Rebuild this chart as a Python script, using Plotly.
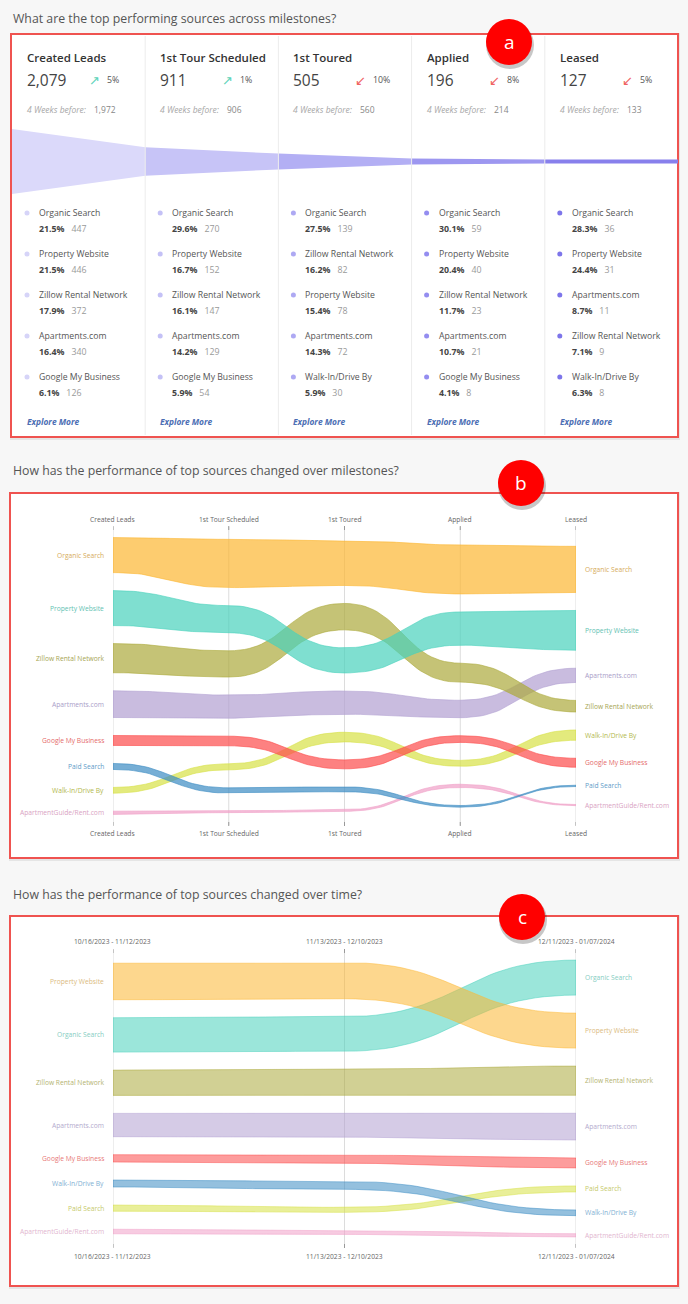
import plotly.graph_objects as go

W, H = 688, 1304
FONT = "Open Sans, DejaVu Sans, sans-serif"

# ---------------- data ----------------
milestones = ["Created Leads", "1st Tour Scheduled", "1st Toured", "Applied", "Leased"]
milestone_totals = [2079, 911, 505, 196, 127]
prior_totals = [1972, 906, 560, 214, 133]
change_pct = [5, 1, 10, 8, 5]
change_up = [True, True, False, False, False]

top_names_created = ["Organic Search", "Property Website", "Zillow Rental Network", "Apartments.com", "Google My Business"]
top_share_created = [21.5, 21.5, 17.9, 16.4, 6.1]
top_count_created = [447, 446, 372, 340, 126]
top_names_scheduled = ["Organic Search", "Property Website", "Zillow Rental Network", "Apartments.com", "Google My Business"]
top_share_scheduled = [29.6, 16.7, 16.1, 14.2, 5.9]
top_count_scheduled = [270, 152, 147, 129, 54]
top_names_toured = ["Organic Search", "Zillow Rental Network", "Property Website", "Apartments.com", "Walk-In/Drive By"]
top_share_toured = [27.5, 16.2, 15.4, 14.3, 5.9]
top_count_toured = [139, 82, 78, 72, 30]
top_names_applied = ["Organic Search", "Property Website", "Zillow Rental Network", "Apartments.com", "Google My Business"]
top_share_applied = [30.1, 20.4, 11.7, 10.7, 4.1]
top_count_applied = [59, 40, 23, 21, 8]
top_names_leased = ["Organic Search", "Property Website", "Apartments.com", "Zillow Rental Network", "Walk-In/Drive By"]
top_share_leased = [28.3, 24.4, 8.7, 7.1, 6.3]
top_count_leased = [36, 31, 11, 9, 8]

# panel b: share (%) of each source at each milestone
sources_b = ["Organic Search", "Property Website", "Zillow Rental Network", "Apartments.com",
             "Google My Business", "Paid Search", "Walk-In/Drive By", "ApartmentGuide/Rent.com"]
organic_b = [21.50, 29.6, 27.5, 30.1, 28.3]
property_b = [21.45, 16.7, 15.4, 20.4, 24.4]
zillow_b = [17.9, 16.1, 16.2, 11.7, 7.1]
apartments_b = [16.4, 14.2, 14.3, 10.7, 8.7]
google_b = [6.1, 5.9, 5.5, 4.1, 5.5]
paid_b = [3.7, 3.2, 3.0, 1.0, 0.8]
walkin_b = [3.5, 3.7, 5.9, 3.6, 6.3]
aptguide_b = [2.0, 1.0, 1.0, 2.0, 0.7]

# panel c: share (%) of each source per 4-week period
periods = ["10/16/2023 - 11/12/2023", "11/13/2023 - 12/10/2023", "12/11/2023 - 01/07/2024"]
sources_c = ["Property Website", "Organic Search", "Zillow Rental Network", "Apartments.com",
             "Google My Business", "Walk-In/Drive By", "Paid Search", "ApartmentGuide/Rent.com"]
property_c = [22.4, 22.2, 21.45]
organic_c = [21.1, 21.2, 21.50]
zillow_c = [15.5, 15.8, 17.9]
apartments_c = [14.3, 14.8, 16.4]
google_c = [4.5, 5.0, 6.1]
walkin_c = [4.3, 4.9, 3.5]
paid_c = [3.8, 3.1, 3.7]
aptguide_c = [2.8, 2.5, 2.0]

# ---------------- style ----------------
palette = [(252, 183, 50), (72, 209, 188), (172, 170, 60), (178, 160, 210),
           (252, 75, 75), (60, 140, 195), (215, 225, 70), (240, 160, 200)]
label_colors_b = ["#d6ab5c", "#62c2b2", "#a6a552", "#a99dc8", "#e56b6b", "#5f9cc8", "#b3b84e", "#d9a3c3"]
label_colors_c = ["#dbbb80", "#86cdc2", "#b4b370", "#b3aacd", "#e87878", "#7fb0d3", "#c6ca6c", "#e2b6cf"]
funnel_colors = ["#dbd9fa", "#c7c4f7", "#b3aff4", "#9d97f0", "#8880ec"]
dot_colors = ["#d6d4f8", "#c4c1f6", "#aea9f3", "#948df0", "#7d75ea"]
PX_PER_PCT = 1.63
GAP_PX = 18
SMALL = 6.7


def px(x):
    return x / W


def py(y):
    return 1 - y / H


annotations = []
shapes = []


def ann(x, y, text, size, color, xanchor="left", weight=None, **kw):
    f = dict(family=FONT, size=size, color=color)
    if weight:
        f["weight"] = weight
    d = dict(x=px(x), y=py(y), xref="paper", yref="paper", text=text, showarrow=False,
             xanchor=xanchor, yanchor="middle", font=f, borderpad=0)
    d.update(kw)
    annotations.append(d)


def panel(x0, y0, x1, y1):
    shapes.append(dict(type="rect", xref="paper", yref="paper", x0=px(x0 - 1), x1=px(x1 + 2),
                       y0=py(y0 - 1), y1=py(y1 + 3), fillcolor="rgba(0,0,0,0.07)",
                       line=dict(width=0), layer="below"))
    shapes.append(dict(type="rect", xref="paper", yref="paper", x0=px(x0), x1=px(x1),
                       y0=py(y0), y1=py(y1), fillcolor="white",
                       line=dict(color="#ef5350", width=2), layer="below"))


def badge(cx, cy, letter, r=23):
    shapes.append(dict(type="circle", xref="paper", yref="paper", x0=px(cx - r), x1=px(cx + r + 2),
                       y0=py(cy - r + 2), y1=py(cy + r + 4), fillcolor="rgba(0,0,0,0.22)",
                       line=dict(width=0), layer="above"))
    shapes.append(dict(type="circle", xref="paper", yref="paper", x0=px(cx - r), x1=px(cx + r),
                       y0=py(cy - r), y1=py(cy + r), fillcolor="#ff0000",
                       line=dict(width=0), layer="above"))
    ann(cx, cy, letter, 19, "white", xanchor="center")


# page background panels
panel(11, 34, 678, 437)
panel(10, 493, 678, 858)
panel(10, 916, 678, 1286)

# headings
ann(12, 18, "What are the top performing sources across milestones?", 12.3, "#555")
ann(12, 471, "How has the performance of top sources changed over milestones?", 12.3, "#555")
ann(12, 894, "How has the performance of top sources changed over time?", 12.3, "#555")

fig = go.Figure()

# ---------------- panel a ----------------
col_w = (678 - 12) / 5
for i in range(4):
    xs = 12 + (i + 1) * col_w
    shapes.append(dict(type="line", xref="paper", yref="paper", x0=px(xs), x1=px(xs),
                       y0=py(36), y1=py(435), line=dict(color="#ececec", width=1), layer="above"))

for i in range(5):
    c0 = milestone_totals[i]
    c1 = milestone_totals[i + 1] if i < 4 else milestone_totals[i]
    fig.add_trace(go.Scatter(x=[i, i + 1, i + 1, i, i], y=[c0 / 2, c1 / 2, -c1 / 2, -c0 / 2, c0 / 2],
                             fill="toself", fillcolor=funnel_colors[i], mode="lines",
                             line=dict(width=0, color=funnel_colors[i]), hoverinfo="skip",
                             xaxis="x", yaxis="y", showlegend=False))

FUNNEL_MAX_PX = 65
funnel_top, funnel_bot = 120, 203
k_f = FUNNEL_MAX_PX / max(milestone_totals)
half_f = (funnel_bot - funnel_top) / 2 / k_f

top_names = [top_names_created, top_names_scheduled, top_names_toured, top_names_applied, top_names_leased]
top_share = [top_share_created, top_share_scheduled, top_share_toured, top_share_applied, top_share_leased]
top_count = [top_count_created, top_count_scheduled, top_count_toured, top_count_applied, top_count_leased]

for i in range(5):
    cx = 12 + i * col_w
    ann(cx + 14, 57, milestones[i], 11.5, "#333", weight=600)
    ann(cx + 14, 80, f"{milestone_totals[i]:,}", 15.5, "#444")
    arrow = "↗" if change_up[i] else "↙"
    acol = "#5cd3b9" if change_up[i] else "#f06262"
    ann(cx + 76, 80, arrow, 13, acol)
    ann(cx + 94, 80, f"{change_pct[i]}%", 8.8, "#555")
    ann(cx + 14, 110, "<i>4 Weeks before:</i>", 8.5, "#a8a8a8")
    ann(cx + 81, 110, f"{prior_totals[i]:,}", 8.5, "#888")
    for k in range(5):
        yk = 213 + k * 41
        shapes.append(dict(type="circle", xref="paper", yref="paper",
                           x0=px(cx + 12.5), x1=px(cx + 17.5), y0=py(yk - 2.5), y1=py(yk + 2.5),
                           fillcolor=dot_colors[i], line=dict(width=0), layer="above"))
        ann(cx + 26, yk, top_names[i][k], 8.7, "#555")
        ann(cx + 26, yk + 16,
            f"<b>{top_share[i][k]}%</b>&nbsp;&nbsp;&nbsp;<span style='color:#9a9a9a'>{top_count[i][k]}</span>",
            8.8, "#444")
    ann(cx + 14, 421, "<b><i>Explore More</i></b>", 8.4, "#4a6db3")


# ---------------- bump charts ----------------
def stack_tops(vals, gap):
    n, m = len(vals), len(vals[0])
    tops = [[0.0] * m for _ in range(n)]
    for j in range(m):
        order = sorted(range(n), key=lambda s: -vals[s][j])
        total = sum(vals[s][j] for s in range(n)) + gap * (n - 1)
        y = -total / 2
        for s in order:
            tops[s][j] = y
            y += vals[s][j] + gap
    return tops


def bump_edge(ys, steps=30):
    X, Y = [], []
    for j in range(len(ys) - 1):
        x0, x1, y0, y1 = j, j + 1, ys[j], ys[j + 1]
        xm = (x0 + x1) / 2
        for s in range(steps + 1):
            if j > 0 and s == 0:
                continue
            t = s / steps
            a, b, c, d = (1 - t) ** 3, 3 * (1 - t) ** 2 * t, 3 * (1 - t) * t ** 2, t ** 3
            X.append(a * x0 + (b + c) * xm + d * x1)
            Y.append((a + b) * y0 + (c + d) * y1)
    return X, Y


def bump_panel(names, vals, cols, xa, ya, alpha, dom_top, dom_bot, lab_top, lab_bot, lab_colors):
    gap = GAP_PX / PX_PER_PCT
    tops = stack_tops(vals, gap)
    n, m = len(vals), len(vals[0])
    for s in reversed(range(n)):
        r, g, b = palette[s]
        top = tops[s]
        bot = [tops[s][j] + vals[s][j] for j in range(m)]
        X1, Y1 = bump_edge(top)
        X2, Y2 = bump_edge(bot)
        fig.add_trace(go.Scatter(x=X1 + X2[::-1] + [X1[0]], y=Y1 + Y2[::-1] + [Y1[0]],
                                 fill="toself", fillcolor=f"rgba({r},{g},{b},{alpha})", mode="lines",
                                 line=dict(width=0.7, color=f"rgba({r},{g},{b},{min(1, alpha + 0.15)})"),
                                 hoverinfo="skip", showlegend=False, xaxis=xa, yaxis=ya))
        ann_kw = dict(xref=xa, yref=ya, showarrow=False, yanchor="middle",
                      font=dict(family=FONT, size=SMALL, color=lab_colors[s]))
        annotations.append(dict(x=0, y=top[0] + vals[s][0] / 2, text=names[s], xanchor="right",
                                xshift=-7, **ann_kw))
        annotations.append(dict(x=m - 1, y=top[-1] + vals[s][-1] / 2, text=names[s], xanchor="left",
                                xshift=7, **ann_kw))
    for j in range(m):
        shapes.append(dict(type="line", xref=xa, yref="paper", x0=j, x1=j, y0=py(dom_top), y1=py(dom_bot),
                           line=dict(color="#dcdcdc", width=1), layer="below"))
        for (a0, a1) in [(dom_top - 1, dom_top + 3), (dom_bot - 3, dom_bot + 1)]:
            shapes.append(dict(type="line", xref=xa, yref="paper", x0=j, x1=j, y0=py(a0), y1=py(a1),
                               line=dict(color="#999", width=1), layer="below"))
        for yy in (lab_top, lab_bot):
            annotations.append(dict(x=j, y=py(yy), xref=xa, yref="paper", text=cols[j], showarrow=False,
                                    xanchor="center", yanchor="middle",
                                    font=dict(family=FONT, size=SMALL, color="#666")))
    half = (dom_bot - dom_top) / 2 / PX_PER_PCT
    return half


vals_b = [organic_b, property_b, zillow_b, apartments_b, google_b, paid_b, walkin_b, aptguide_b]
vals_c = [property_c, organic_c, zillow_c, apartments_c, google_c, walkin_c, paid_c, aptguide_c]

half_b = bump_panel(sources_b, vals_b, milestones, "x2", "y2", 0.7, 527, 825, 519, 833, label_colors_b)
half_c = bump_panel(sources_c, vals_c, periods, "x3", "y3", 0.55, 950, 1247, 941, 1256, label_colors_c)

# badges last so they sit on top
badge(509, 42, "a")
badge(521, 483, "b")
badge(522, 917, "c")

ax_off = dict(visible=False, fixedrange=True, showgrid=False, zeroline=False)
fig.update_layout(
    width=W, height=H, margin=dict(l=0, r=0, t=0, b=0),
    paper_bgcolor="#f7f7f7", plot_bgcolor="rgba(0,0,0,0)",
    showlegend=False, font=dict(family=FONT),
    xaxis=dict(domain=[px(12), px(678)], range=[0, 5], **ax_off),
    yaxis=dict(domain=[py(funnel_bot), py(funnel_top)], range=[-half_f, half_f], **ax_off),
    xaxis2=dict(domain=[px(113), px(576)], range=[0, 4], anchor="y2", **ax_off),
    yaxis2=dict(domain=[py(825), py(527)], range=[half_b, -half_b], anchor="x2", **ax_off),
    xaxis3=dict(domain=[px(113), px(576)], range=[0, 2], anchor="y3", **ax_off),
    yaxis3=dict(domain=[py(1247), py(950)], range=[half_c, -half_c], anchor="x3", **ax_off),
    shapes=shapes, annotations=annotations,
)

fig.write_html("out.html")
